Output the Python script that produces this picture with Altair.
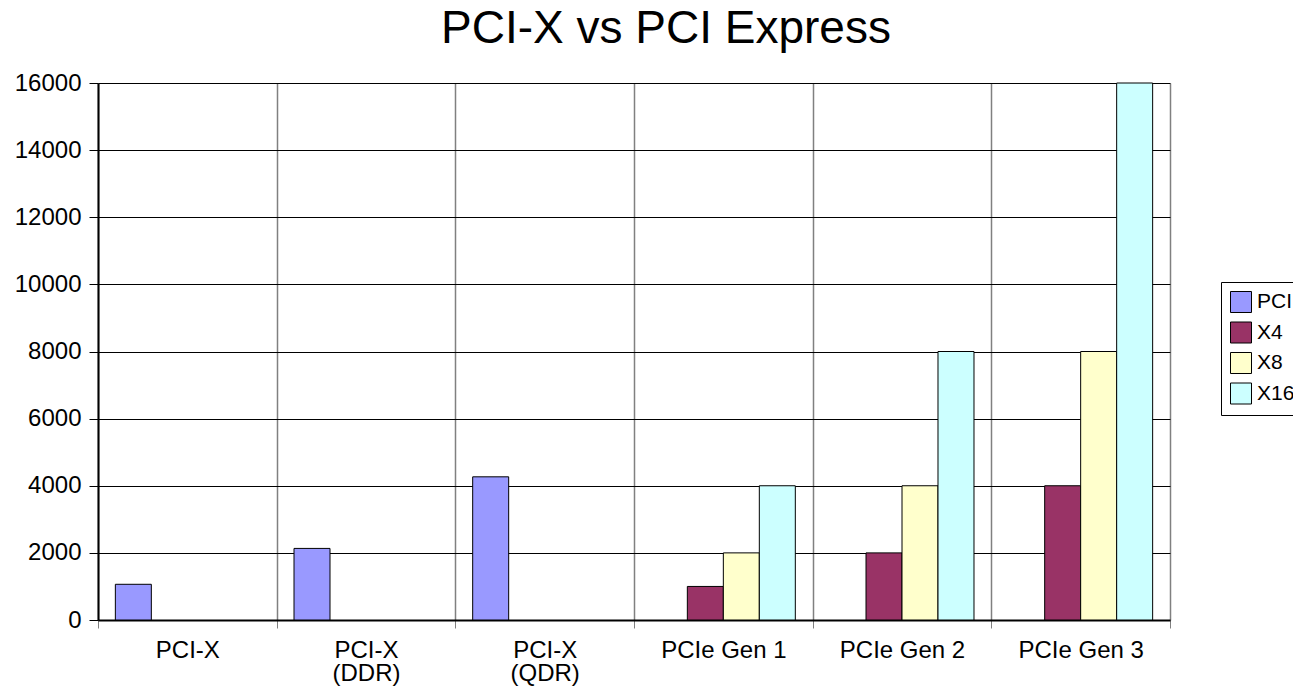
import altair as alt
import pandas as pd

categories = ["PCI-X", "PCI-X|(DDR)", "PCI-X|(QDR)", "PCIe Gen 1", "PCIe Gen 2", "PCIe Gen 3"]
series = ["PCI", "X4", "X8", "X16"]
colors = ["#9999FF", "#993366", "#FFFFCC", "#CCFFFF"]
pci_values = [1064, 2133, 4266, None, None, None]
x4_values = [None, None, None, 1000, 2000, 4000]
x8_values = [None, None, None, 2000, 4000, 8000]
x16_values = [None, None, None, 4000, 8000, 16000]
y_ticks = [0, 2000, 4000, 6000, 8000, 10000, 12000, 14000, 16000]

rows = []
for name, vals in zip(series, [pci_values, x4_values, x8_values, x16_values]):
    for cat, v in zip(categories, vals):
        if v is not None:
            rows.append({"category": cat, "series": name, "value": v})
df = pd.DataFrame(rows)

FONT = "Liberation Sans"

chart = alt.Chart(df).mark_bar(stroke="#000000", strokeWidth=1).encode(
    x=alt.X(
        "category:N",
        sort=categories,
        scale=alt.Scale(domain=categories, paddingInner=0, paddingOuter=0),
        axis=alt.Axis(
            title=None,
            labelAngle=0,
            tickBand="extent",
            labelExpr="split(datum.label, '|')",
            labelFontSize=24,
            labelFont=FONT,
            labelColor="#000000",
            labelLineHeight=23,
            labelPadding=10,
            labelOverlap=False,
            labelFlush=False,
            labelLimit=300,
            tickSize=8,
            tickColor="#808080",
            domainColor="#000000",
            domainWidth=2,
            grid=True,
            gridColor="#808080",
            gridWidth=1.5,
        ),
    ),
    xOffset=alt.XOffset(
        "series:N",
        sort=series,
        scale=alt.Scale(domain=series, paddingInner=0, paddingOuter=0.482),
    ),
    y=alt.Y(
        "value:Q",
        scale=alt.Scale(domain=[0, 16000], nice=False),
        axis=alt.Axis(
            title=None,
            values=y_ticks,
            format="d",
            labelFontSize=24,
            labelFont=FONT,
            labelColor="#000000",
            labelPadding=8,
            tickSize=9,
            tickColor="#000000",
            domainColor="#000000",
            domainWidth=2,
            grid=True,
            gridColor="#000000",
            gridWidth=1,
        ),
    ),
    color=alt.Color(
        "series:N",
        scale=alt.Scale(domain=series, range=colors),
        legend=alt.Legend(
            title=None,
            orient="none",
            legendX=1123,
            legendY=199,
            symbolType="square",
            symbolSize=441,
            symbolStrokeColor="#000000",
            symbolStrokeWidth=1,
            symbolOpacity=1,
            labelFontSize=21,
            labelFont=FONT,
            labelColor="#000000",
            labelOffset=5,
            rowPadding=4.5,
            padding=9,
            strokeColor="#000000",
            fillColor="#FFFFFF",
        ),
    ),
).properties(
    width=1072,
    height=537,
    title=alt.TitleParams(
        "PCI-X vs PCI Express",
        fontSize=46,
        font=FONT,
        fontWeight="normal",
        color="#000000",
        anchor="middle",
        dx=32,
        dy=42,
        baseline="alphabetic",
        offset=24,
    ),
    autosize=alt.AutoSizeParams(type="none"),
    padding={"left": 90, "top": 75, "right": 123, "bottom": 66},
).configure_view(
    stroke="#808080",
    strokeWidth=1.5,
).configure(
    background="#FFFFFF",
)

chart.save("out.html", embed_options={"renderer": "svg", "actions": False})
